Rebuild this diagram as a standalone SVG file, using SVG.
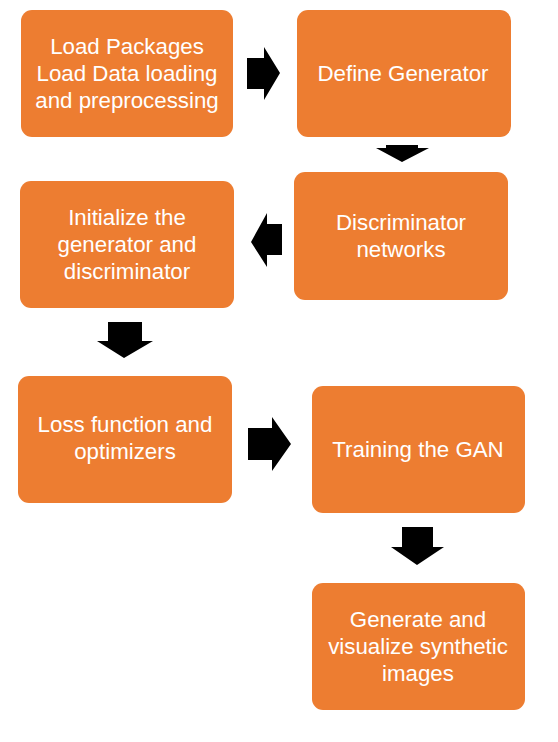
<svg xmlns="http://www.w3.org/2000/svg" width="558" height="742" viewBox="0 0 558 742">
<style>
.box{fill:#ED7D31}
.t{font-family:"Liberation Sans",Arial,sans-serif;font-size:22.3px;fill:#fff;text-anchor:middle}
.ar{fill:#000}
</style>
<rect width="558" height="742" fill="#fff"/>
<g id="n1"><rect class="box" x="21" y="10" width="212" height="127" rx="11"/>
<text class="t" x="127" y="54">Load Packages</text><text class="t" x="127" y="81">Load Data loading</text><text class="t" x="127" y="108">and preprocessing</text></g>
<g id="n2"><rect class="box" x="297" y="10" width="214" height="127" rx="11"/>
<text class="t" x="403" y="81">Define Generator</text></g>
<g id="n3"><rect class="box" x="294" y="172" width="214" height="128" rx="11"/>
<text class="t" x="401" y="230">Discriminator</text><text class="t" x="401" y="257">networks</text></g>
<g id="n4"><rect class="box" x="20" y="181" width="214" height="127" rx="11"/>
<text class="t" x="127" y="225">Initialize the</text><text class="t" x="127" y="252">generator and</text><text class="t" x="127" y="279">discriminator</text></g>
<g id="n5"><rect class="box" x="18" y="376" width="214" height="127" rx="11"/>
<text class="t" x="125" y="432">Loss function and</text><text class="t" x="125" y="459">optimizers</text></g>
<g id="n6"><rect class="box" x="312" y="386" width="213" height="127" rx="11"/>
<text class="t" x="418" y="457">Training the GAN</text></g>
<g id="n7"><rect class="box" x="312" y="583" width="213" height="127" rx="11"/>
<text class="t" x="418" y="627">Generate and</text><text class="t" x="418" y="654">visualize synthetic</text><text class="t" x="418" y="681">images</text></g>
<g id="connectors">
<polygon class="ar" points="247,58 264,58 264,47 280,73 264,100 264,89 247,89"/>
<polygon class="ar" points="386,145 418,145 418,148 429,148 402,162 376,148 386,148"/>
<polygon class="ar" points="282,224 267,224 267,213 251,242 267,267 267,255 282,255"/>
<polygon class="ar" points="108,322 142,322 142,341 153,341 124,358 97,341 108,341"/>
<polygon class="ar" points="248,428 272,428 272,417 291,444 272,471 272,460 248,460"/>
<polygon class="ar" points="402,527 433,527 433,547 444,547 417,565 391,547 402,547"/>
</g>
</svg>
